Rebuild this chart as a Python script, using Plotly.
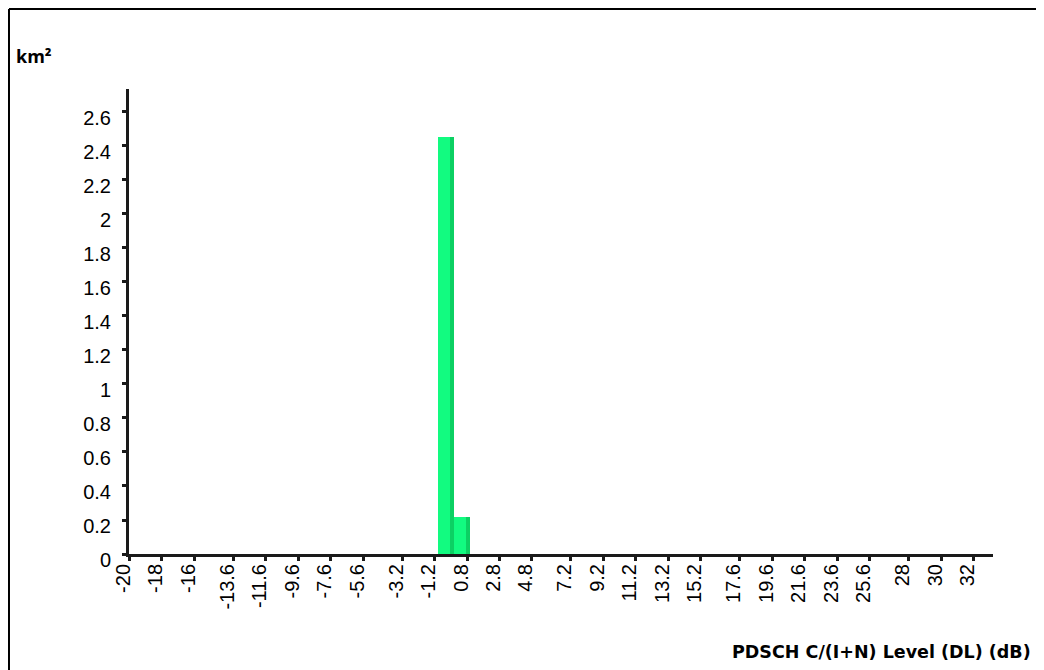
# imports

from plotly.graph_objects import Bar, Figure

# données
bin_centres = [-0.5, 0.5]          # dB
surfaces = [2.45, 0.22]            # km²

x_ticks = [-20, -18, -16, -13.6, -11.6, -9.6, -7.6, -5.6, -3.2, -1.2, 0.8,
           2.8, 4.8, 7.2, 9.2, 11.2, 13.2, 15.2, 17.6, 19.6, 21.6, 23.6,
           25.6, 28, 30, 32]
x_tick_labels = ["-20", "-18", "-16", "-13.6", "-11.6", "-9.6", "-7.6", "-5.6",
                 "-3.2", "-1.2", "0.8", "2.8", "4.8", "7.2", "9.2", "11.2",
                 "13.2", "15.2", "17.6", "19.6", "21.6", "23.6", "25.6", "28",
                 "30", "32"]
y_ticks = [0, 0.2, 0.4, 0.6, 0.8, 1, 1.2, 1.4, 1.6, 1.8, 2, 2.2, 2.4, 2.6]
y_tick_labels = ["0", "0.2", "0.4", "0.6", "0.8", "1", "1.2", "1.4", "1.6",
                 "1.8", "2", "2.2", "2.4", "2.6"]

x_title = "PDSCH C/(I+N) Level (DL) (dB)"
y_title = "km²"

X_RANGE = [-20, 33.17]
Y_RANGE = [0, 2.735]
TICK_FONT = dict(family="Liberation Sans, Arial", size=20, color="black")
AXIS_COL = "#1a1a1a"


def axis_style(vals, labels, ticks, **kw):
	d = dict(
		tickmode="array", tickvals=vals, ticktext=labels,
		showline=True, linecolor=AXIS_COL, linewidth=3,
		ticks=ticks, ticklen=4, tickwidth=3, tickcolor=AXIS_COL,
		showgrid=False, zeroline=False, tickfont=TICK_FONT,
	)
	d.update(kw)
	return d


def make_fig():
	fig = Figure()
	# barre principale
	fig.add_trace(Bar(x=bin_centres, y=surfaces, width=1,
	                  marker=dict(color="#12fb80", line=dict(width=0)),
	                  showlegend=False, hoverinfo="x+y"))
	# bande sombre à droite (effet de relief)
	fig.add_trace(Bar(x=bin_centres, y=surfaces, width=0.25, offset=0.25,
	                  marker=dict(color="#0cd063", line=dict(width=0)),
	                  showlegend=False, hoverinfo="skip"))

	# la page html a une marge de 8 px : figure réduite d'autant
	fig.update_layout(
		width=1036, height=662,
		margin=dict(l=121, r=51, t=81, b=116),
		paper_bgcolor="white", plot_bgcolor="white",
		barmode="overlay", bargap=0,
		xaxis=axis_style(x_ticks, x_tick_labels, "outside",
		                 range=X_RANGE, tickangle=-90,
		                 ticklabelstandoff=-5, ticklabelshift=-6),
		yaxis=axis_style(y_ticks, y_tick_labels, "outside",
		                 range=Y_RANGE, ticklabelstandoff=7, ticklabelshift=6),
		# axes doublés pour avoir des graduations qui traversent l'axe
		xaxis2=axis_style(x_ticks, x_tick_labels, "inside", range=X_RANGE,
		                  overlaying="x", anchor="y", showticklabels=False),
		yaxis2=axis_style(y_ticks, y_tick_labels, "inside", range=Y_RANGE,
		                  overlaying="y", anchor="x", showticklabels=False),
		font=dict(family="Liberation Sans, Arial", color="black"),
	)
	# cadre (seuls les bords haut et gauche sont visibles)
	frame = dict(color="black", width=2)
	fig.add_shape(type="line", xref="paper", yref="paper",
	              x0=-0.1389, x1=1.3, y0=1.172, y1=1.172, line=frame)
	fig.add_shape(type="line", xref="paper", yref="paper",
	              x0=-0.1389, x1=-0.1389, y0=-0.5, y1=1.172, line=frame)
	fig.add_annotation(text="<b>" + y_title + "</b>", xref="paper", yref="paper",
	                   x=-0.1331, y=1.071, xanchor="left", yanchor="middle",
	                   showarrow=False,
	                   font=dict(family="Open Sans, Noto Sans", size=18, color="black"))
	fig.add_annotation(text="<b>" + x_title + "</b>", xref="paper", yref="paper",
	                   x=0.696, y=-0.211, xanchor="left", yanchor="middle",
	                   showarrow=False,
	                   font=dict(family="DejaVu Sans", size=17.5, color="black"))
	return fig


def main():
	fig = make_fig()
	fig.write_html("out.html")


if __name__ == "__main__":
	main()
